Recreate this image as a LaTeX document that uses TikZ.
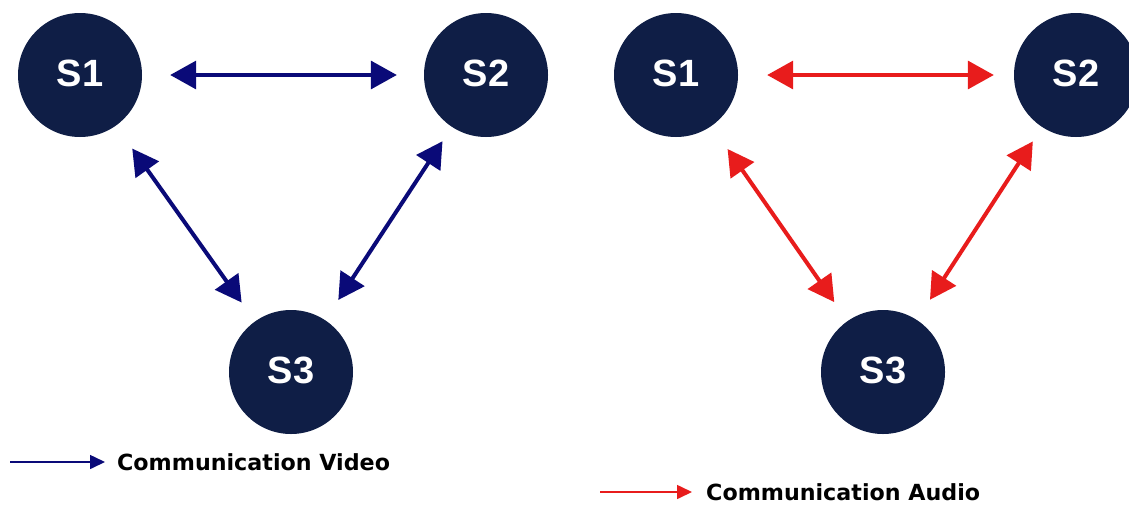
\documentclass[tikz,border=0pt]{standalone}
\usepackage{fontspec}
\setmainfont{Liberation Sans}
\newfontfamily\legfont{DejaVu Sans}
\usetikzlibrary{arrows.meta}
\definecolor{navyfill}{HTML}{0F1E46}
\definecolor{vidblue}{HTML}{0A0A78}
\definecolor{audred}{HTML}{E81C1C}
\tikzset{
  srv/.style={circle, fill=navyfill, minimum size=124pt, inner sep=0pt,
    text=white, font=\fontsize{38}{38}\selectfont\bfseries},
  link/.style={line width=4pt, {Triangle[length=26pt,width=28pt]}-{Triangle[length=26pt,width=28pt]}},
  hlink/.style={line width=3.4pt, {Triangle[length=26pt,width=28pt]}-{Triangle[length=26pt,width=28pt]}},
  legarrow/.style={line width=1.6pt, -{Triangle[length=15pt,width=14pt]}},
  legtext/.style={anchor=west, inner sep=0pt, font=\legfont\fontsize{22.2}{22}\selectfont\bfseries, text=black}
}
\newcommand{\slabel}[1]{\raisebox{3pt}{#1}}
\begin{document}
\begin{tikzpicture}[x=1pt,y=-1pt]
\useasboundingbox (0,0) rectangle (1129,504);
\clip (0,0) rectangle (1129,504);
\fill[white] (0,0) rectangle (1129,504);
% left diagram (video)
\node[srv] (a1) at (80,75) {\slabel{S1}};
\node[srv] (a2) at (486,75) {\slabel{S2}};
\node[srv] (a3) at (291,372) {\slabel{S3}};
\draw[hlink, vidblue, shorten <=28pt, shorten >=27pt] (a1) -- (a2);
\draw[link, vidblue, shorten <=28pt, shorten >=23pt] (a1) -- (a3);
\draw[link, vidblue, shorten <=17pt, shorten >=24pt] (a2) -- (a3);
\coordinate (lv0) at (10,462);
\node[legtext] (lvt) at (117,462) {Communication Video};
\draw[legarrow, vidblue] (lv0) -- ([xshift=-12pt]lvt.west);
% right diagram (audio)
\node[srv] (b1) at (676,75) {\slabel{S1}};
\node[srv] (b2) at (1076,75) {\slabel{S2}};
\node[srv] (b3) at (883,372) {\slabel{S3}};
\draw[hlink, audred, shorten <=29pt, shorten >=20pt] (b1) -- (b2);
\draw[link, audred, shorten <=28pt, shorten >=23pt] (b1) -- (b3);
\draw[link, audred, shorten <=17pt, shorten >=24pt] (b2) -- (b3);
\coordinate (la0) at (600,492);
\node[legtext] (lat) at (706,492) {Communication Audio};
\draw[legarrow, audred] (la0) -- ([xshift=-14pt]lat.west);
\end{tikzpicture}
\end{document}
